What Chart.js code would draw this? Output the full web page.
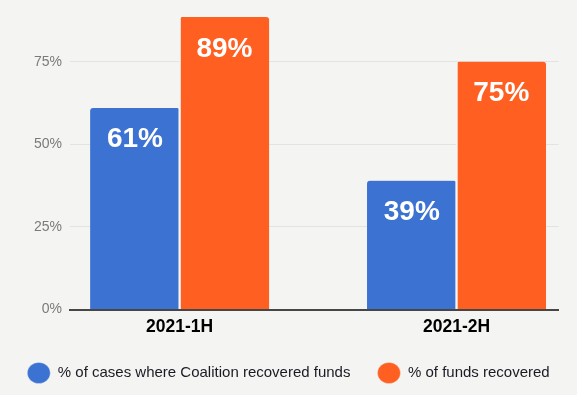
<!DOCTYPE html>
<html>
<head>
<meta charset="utf-8">
<script src="https://cdn.jsdelivr.net/npm/chart.js@4.4.1/dist/chart.umd.min.js"></script>
<style>
  html, body { margin: 0; padding: 0; background: #f4f4f2; }
  #wrap { width: 577px; height: 395px; }
</style>
</head>
<body>
<div id="wrap"><canvas id="c" width="577" height="395"></canvas></div>
<script>
const categories = ['2021-1H', '2021-2H'];
const seriesNames = ['% of cases where Coalition recovered funds', '% of funds recovered'];
const casesRecovered = [61, 39];
const fundsRecovered = [88.5, 75];
const yTicks = [0, 25, 50, 75];

const BG = '#f4f4f2';
const BLUE = '#3c72d2';
const ORANGE = '#ff5f20';

const toPoints = vals => categories.map((c, i) => ({ x: i, y: vals[i] }));

const barLabels = {
  id: 'barLabels',
  afterDatasetsDraw(chart) {
    const ctx = chart.ctx;
    ctx.save();
    ctx.fillStyle = '#ffffff';
    ctx.font = 'bold 28px "Liberation Sans", Arial, sans-serif';
    ctx.textAlign = 'center';
    ctx.textBaseline = 'alphabetic';
    chart.data.datasets.forEach((ds, di) => {
      const meta = chart.getDatasetMeta(di);
      meta.data.forEach((el, i) => {
        const v = ds.data[i].y;
        ctx.fillText(Math.round(v) + '%', el.x, el.y + 39.5);
      });
    });
    ctx.restore();
  }
};

new Chart(document.getElementById('c'), {
  type: 'bar',
  data: {
    datasets: [
      {
        label: seriesNames[0],
        data: toPoints(casesRecovered),
        backgroundColor: BLUE,
        borderColor: BG,
        borderWidth: { right: 1.5, left: 0, top: 0, bottom: 0 },
        borderRadius: 3,
        barThickness: 89.5
      },
      {
        label: seriesNames[1],
        data: toPoints(fundsRecovered),
        backgroundColor: ORANGE,
        borderColor: BG,
        borderWidth: { left: 1.5, right: 0, top: 0, bottom: 0 },
        borderRadius: 3,
        barThickness: 89.5
      }
    ]
  },
  options: {
    responsive: false,
    animation: false,
    devicePixelRatio: 1,
    layout: { padding: { top: 8, right: 0, bottom: 4.5, left: 0 } },
    scales: {
      x: {
        type: 'linear',
        offset: false,
        min: -0.396,
        max: 1.369,
        grid: { display: false, drawTicks: false },
        border: { display: true, color: '#464646', width: 2, z: 1 },
        afterBuildTicks: s => { s.ticks = categories.map((c, i) => ({ value: i })); },
        afterFit: s => { s.height = 29; },
        ticks: {
          padding: 7.2,
          color: '#000000',
          font: { family: '"Liberation Sans", Arial, sans-serif', size: 17.5, weight: 'bold' },
          callback: v => categories[v] ?? '',
          maxRotation: 0,
          autoSkip: false
        }
      },
      y: {
        min: 0,
        max: 88.7,
        afterBuildTicks: s => { s.ticks = yTicks.map(v => ({ value: v })); },
        afterFit: s => { s.width = 70; },
        border: { display: false },
        grid: {
          drawTicks: false,
          color: ctx => (ctx.tick && ctx.tick.value === 0) ? 'rgba(0,0,0,0)' : '#e3e3e1',
          lineWidth: 1
        },
        ticks: {
          padding: 8,
          color: '#7a7a7a',
          font: { family: '"Liberation Sans", Arial, sans-serif', size: 14 },
          callback: v => v + '%'
        }
      },
      spacer: {
        type: 'linear',
        position: 'right',
        display: true,
        grid: { display: false, drawTicks: false },
        border: { display: false },
        ticks: { display: false },
        afterFit: s => { s.width = 18.3; }
      }
    },
    plugins: {
      legend: {
        position: 'bottom',
        labels: {
          usePointStyle: true,
          pointStyle: 'circle',
          pointStyleWidth: 23,
          boxHeight: 16,
          padding: 27,
          color: '#1a1a24',
          font: { family: '"Liberation Sans", Arial, sans-serif', size: 15 }
        }
      },
      tooltip: { enabled: false }
    }
  },
  plugins: [barLabels]
});
</script>
</body>
</html>
